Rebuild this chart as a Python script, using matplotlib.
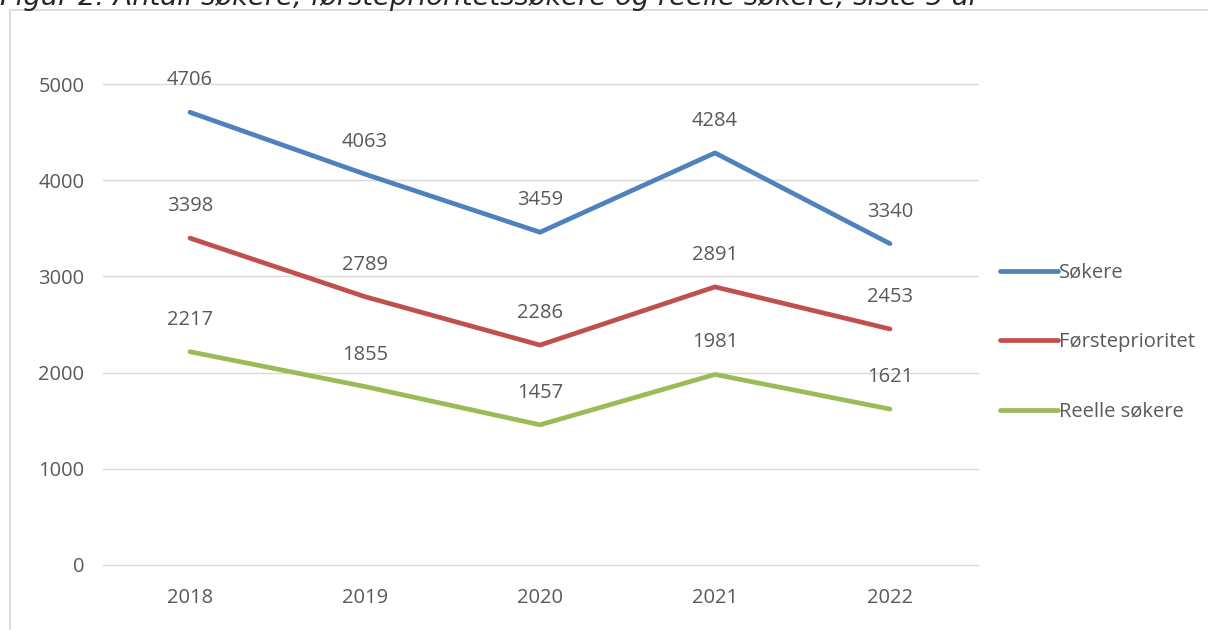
import matplotlib.pyplot as plt
from matplotlib.patches import Rectangle

# data
years = ["2018", "2019", "2020", "2021", "2022"]
sokere = [4706, 4063, 3459, 4284, 3340]
forste = [3398, 2789, 2286, 2891, 2453]
reelle = [2217, 1855, 1457, 1981, 1621]
labels = ["Søkere", "Førsteprioritet", "Reelle søkere"]
colors = ["#4F81BD", "#C0504D", "#9BBB59"]

plt.rcParams['font.family'] = ['Open Sans', 'DejaVu Sans']
txt = "#595959"
fs = 14.5

fig = plt.figure(figsize=(12.08, 6.30), dpi=100)
# chart border
fig.patches.append(Rectangle((10/1208, -0.1), 1.2, 1 - 10/630 + 0.1, transform=fig.transFigure,
                             fill=False, edgecolor="#D9D9D9", linewidth=1.2))
# cut-off caption
fig.text(0.0, 1 - 5/630, "Figur 2: Antall søkere, førsteprioritetssøkere og reelle søkere, siste 5 år",
         family="DejaVu Sans", style="italic", fontsize=19.7, color="#262626", va="baseline", ha="left")

ax = fig.add_axes([102.5/1208, 1 - 565/630, 875/1208, 481/630])
x = range(len(years))
for series, lab, c in zip([sokere, forste, reelle], labels, colors):
    ax.plot(x, series, color=c, linewidth=3.4, label=lab, solid_capstyle="round", solid_joinstyle="round")
    for xi, v in zip(x, series):
        ax.annotate(str(v), (xi, v), xytext=(0, 23), textcoords="offset points",
                    ha="center", va="center", fontsize=fs, color=txt)

ax.set_xlim(-0.5, 4.5)
ax.set_ylim(0, 5000)
ax.set_yticks([0, 1000, 2000, 3000, 4000, 5000])
ax.set_xticks(list(x))
ax.set_xticklabels(years)
ax.grid(axis="y", color="#D9D9D9", linewidth=1)
for gl in ax.get_ygridlines():
    gl.set_clip_on(False)
ax.set_axisbelow(True)
for s in ax.spines.values():
    s.set_visible(False)
ax.tick_params(length=0, labelsize=fs, labelcolor=txt)
ax.tick_params(axis="y", pad=13)
ax.tick_params(axis="x", pad=16.5)

leg = ax.legend(loc="upper left", bbox_to_anchor=(1000/1208, 1 - 263/630), bbox_transform=fig.transFigure,
                frameon=False, handlelength=2.9, handletextpad=0.05, labelspacing=2.45, fontsize=fs,
                borderaxespad=0, borderpad=0)
for t in leg.get_texts():
    t.set_color(txt)

fig.savefig("out.png", dpi=100)
